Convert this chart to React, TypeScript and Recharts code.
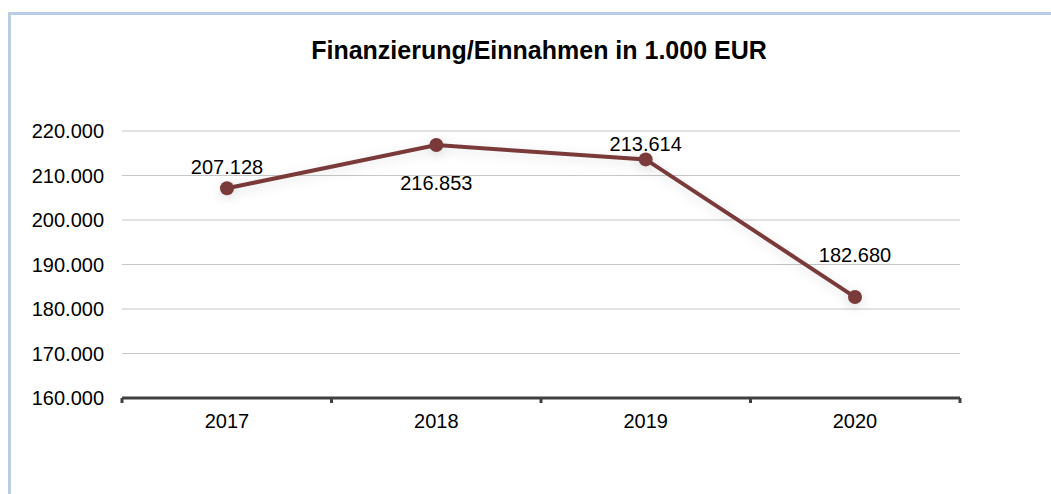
import React from 'react';
import { LineChart, Line, XAxis, YAxis, CartesianGrid, LabelList } from 'recharts';

const years = ['2017', '2018', '2019', '2020'];
const funding = [207128, 216853, 213614, 182680];
const yTicks = [160000, 170000, 180000, 190000, 200000, 210000, 220000];
const bandTicks = [0, 1, 2, 3, 4];

// vertical offset of each value label relative to its point
const labelOffsets = [-21, 38, -15, -42];

// slot = middle of each category band, used by the boundary-tick axis
const data = years.map((year, i) => ({ year, value: funding[i], slot: i + 0.5 }));

const fmtThousands = (v: number) => (v / 1000).toFixed(3);

const font = 'Arial, "Liberation Sans", sans-serif';
const lineColor = '#7a3a3a';

function ValueLabel(props: any) {
  const { x, y, index, value } = props;
  return (
    <text
      x={x}
      y={y + labelOffsets[index]}
      textAnchor="middle"
      dominantBaseline="central"
      fontFamily={font}
      fontSize={20}
      fill="#000"
    >
      {fmtThousands(value)}
    </text>
  );
}

export default function App() {
  return (
    <div style={{ position: 'absolute', left: 0, top: 0, width: 1051, height: 494, background: '#fff', overflow: 'hidden' }}>
      <style>{`.recharts-line-curve, .recharts-line-dots { filter: drop-shadow(0 3px 6px rgba(0,0,0,0.12)); }`}</style>
      <div
        style={{
          position: 'absolute',
          left: 8,
          top: 12,
          width: 1100,
          height: 600,
          borderLeft: '3px solid #b9cde5',
          borderTop: '3px solid #b9cde5',
        }}
      />
      <div
        style={{
          position: 'absolute',
          left: 0,
          top: 36,
          width: 1078,
          textAlign: 'center',
          fontFamily: font,
          fontWeight: 'bold',
          fontSize: 25,
        }}
      >
        Finanzierung/Einnahmen in 1.000 EUR
      </div>
      <div style={{ position: 'absolute', left: 0, top: 0 }}>
        <LineChart width={1051} height={494} data={data} margin={{ top: 131, right: 91, bottom: 65, left: 0 }}>
          <CartesianGrid horizontal vertical={false} stroke="#c6c6c6" strokeWidth={1} />
          <XAxis
            xAxisId="bands"
            dataKey="slot"
            type="number"
            domain={[0, 4]}
            allowDataOverflow
            ticks={bandTicks}
            interval={0}
            tick={() => <g />}
            height={1}
            axisLine={{ stroke: '#404040', strokeWidth: 3 }}
            tickLine={{ stroke: '#404040', strokeWidth: 3 }}
            tickSize={5}
          />
          <XAxis
            dataKey="year"
            xAxisId="cat"
            axisLine={false}
            tickLine={false}
            height={30}
            tickMargin={9}
            padding={{ left: 105, right: 105 }}
            tick={{ fontFamily: font, fontSize: 20, fill: '#000' }}
          />
          <YAxis
            domain={[160000, 220000]}
            ticks={yTicks}
            width={122}
            axisLine={false}
            tickLine={false}
            tickMargin={12}
            tickFormatter={fmtThousands}
            tick={{ fontFamily: font, fontSize: 20, fill: '#000' }}
          />
          <Line
            xAxisId="cat"
            dataKey="value"
            stroke={lineColor}
            strokeWidth={4}
            dot={{ r: 7, fill: lineColor, stroke: lineColor, strokeWidth: 0 }}
            isAnimationActive={false}
          >
            <LabelList dataKey="value" content={<ValueLabel />} />
          </Line>
        </LineChart>
      </div>
    </div>
  );
}
